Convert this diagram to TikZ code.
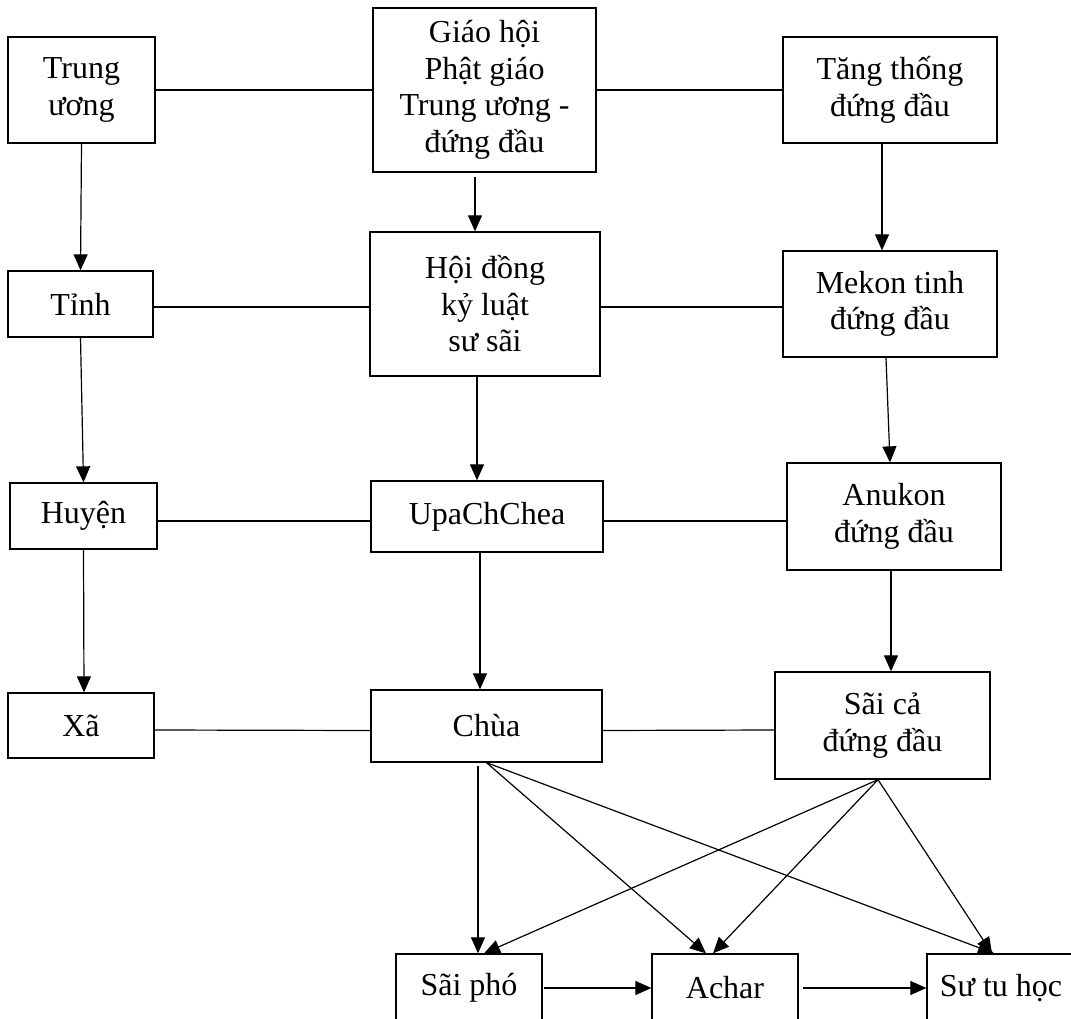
\documentclass[tikz,border=0pt]{standalone}
\usepackage{fontspec}
\setmainfont{Liberation Serif}
\usetikzlibrary{arrows.meta}
\tikzset{
  box/.style={draw, line width=1.3pt, align=center, inner sep=0pt,
    font=\fontsize{32}{36.5}\selectfont},
  ln/.style={line width=1.2pt},
  arr/.style={line width=1.2pt, -{Triangle[length=16pt,width=14pt]}}
}
\begin{document}
\begin{tikzpicture}[x=1pt,y=-1pt]
\useasboundingbox (0,0) rectangle (1071,1019);
\clip (0,0) rectangle (1071,1019);
% row 1
\node[box, minimum width=147pt, minimum height=106pt] (TU) at (81.5,90) {Trung\\ương};
\node[box, minimum width=223pt, minimum height=164pt] (GH) at (484.5,90) {Giáo hội\\Phật giáo\\Trung ương -\\đứng đầu};
\node[box, minimum width=214pt, minimum height=106pt] (TT) at (890,90) {Tăng thống\\đứng đầu};
% row 2
\node[box, minimum width=145pt, minimum height=66pt] (Tinh) at (80.5,304) {Tỉnh};
\node[box, minimum width=230pt, minimum height=144pt] (HD) at (485,304) {Hội đồng\\kỷ luật\\sư sãi};
\node[box, minimum width=214pt, minimum height=106pt] (MK) at (890,304) {Mekon tinh\\đứng đầu};
% row 3
\node[box, minimum width=147pt, minimum height=66pt] (Huyen) at (83.5,516) {Huyện};
\node[box, minimum width=232pt, minimum height=71pt] (Upa) at (487,516.5) {UpaChChea};
\node[box, minimum width=214pt, minimum height=107pt] (Anu) at (894,516.5) {Anukon\\đứng đầu};
% row 4
\node[box, minimum width=146pt, minimum height=65pt] (Xa) at (81,725.5) {Xã};
\node[box, minimum width=231pt, minimum height=72pt] (Chua) at (486.5,726) {Chùa};
\node[box, minimum width=215pt, minimum height=107pt] (Saica) at (882.5,725.5) {Sãi cả\\đứng đầu};
% row 5
\node[box, minimum width=146pt, minimum height=68pt] (Saipho) at (469,988) {Sãi phó};
\node[box, minimum width=146pt, minimum height=68pt] (Achar) at (725,988) {Achar};
\node[box, minimum width=148pt, minimum height=68pt] (STH) at (1001,988) {Sư tu học};
% horizontal lines
\draw[ln] (TU.east) -- (GH.west);
\draw[ln] (GH.east) -- (TT.west);
\draw[ln] ([yshift=-3pt]Tinh.east) -- ([yshift=-3pt]HD.west);
\draw[ln] ([yshift=-3pt]HD.east) -- ([yshift=-3pt]MK.west);
\draw[ln] ([yshift=-5pt]Huyen.east) -- ([yshift=-4.5pt]Upa.west);
\draw[ln] ([yshift=-4.5pt]Upa.east) -- ([yshift=-4.5pt]Anu.west);
\draw[ln] ([yshift=-4.5pt]Xa.east) -- ([yshift=-4.5pt]Chua.west);
\draw[ln] ([yshift=-4.5pt]Chua.east) -- ([yshift=-4.5pt]Saica.west);
% vertical arrows
\draw[arr] (TU.south) -- (Tinh.north);
\draw[arr] (Tinh.south) -- (Huyen.north);
\draw[arr] (Huyen.south) -- ([xshift=3pt]Xa.north);
\draw[arr] ([xshift=-9.5pt,yshift=-4pt]GH.south) -- ([xshift=-10pt]HD.north);
\draw[arr] ([xshift=-8pt]HD.south) -- ([xshift=-10pt]Upa.north);
\draw[arr] ([xshift=-7pt]Upa.south) -- ([xshift=-6.5pt]Chua.north);
\draw[arr] ([xshift=-8pt]TT.south) -- ([xshift=-8pt]MK.north);
\draw[arr] ([xshift=-4pt]MK.south) -- ([xshift=-4pt]Anu.north);
\draw[arr] ([xshift=-3pt]Anu.south) -- ([xshift=8.5pt]Saica.north);
% bottom fan
\draw[arr] ([xshift=-8.5pt,yshift=-3pt]Chua.south) -- ([xshift=9pt]Saipho.north);
\draw[arr] (Chua.south) -- ([xshift=-19pt]Achar.north);
\draw[arr] (Chua.south) -- ([xshift=-7pt]STH.north);
\draw[arr] ([xshift=-4.5pt]Saica.south) -- ([xshift=15pt]Saipho.north);
\draw[arr] ([xshift=-4.5pt]Saica.south) -- ([xshift=-12pt]Achar.north);
\draw[arr] ([xshift=-4.5pt]Saica.south) -- ([xshift=-9pt]STH.north);
% bottom row arrows
\draw[arr] ([xshift=1pt]Saipho.east) -- (Achar.west);
\draw[arr] ([xshift=4pt]Achar.east) -- (STH.west);
\end{tikzpicture}
\end{document}
